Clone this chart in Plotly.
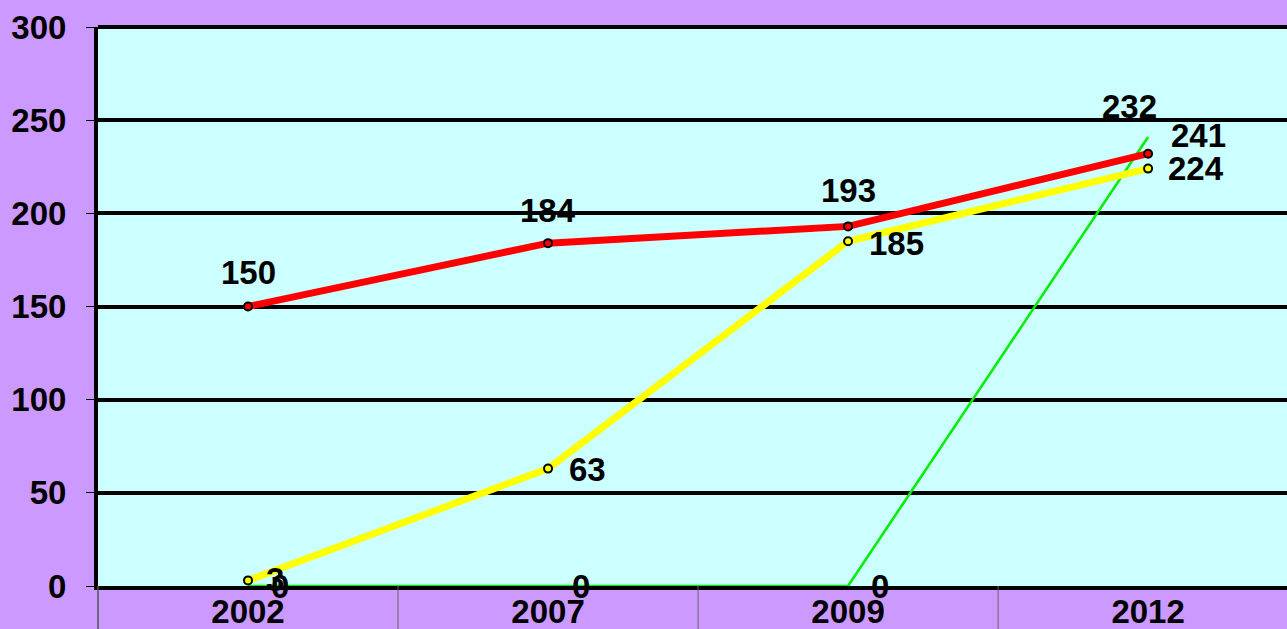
import plotly.graph_objects as go

years = ["2002", "2007", "2009", "2012"]
red_vals = [150, 184, 193, 232]
yellow_vals = [3, 63, 185, 224]
green_vals = [0, 0, 0, 241]
y_ticks = [0, 50, 100, 150, 200, 250, 300]

# label offsets (style): (xshift, yshift) in px
red_off = [(0, 34), (0, 33), (0, 36), (-19, 47)]
yellow_off = [(27, 1), (39, -1), (48, -2), (48, 0)]
green_off = [(32, 0), (33, 0), (32, 0), (50, 1)]

FONT = "Liberation Sans, Arial, sans-serif"
LBL = 33

fig = go.Figure()
fig.add_trace(go.Scatter(x=years, y=green_vals, mode="lines",
                         line=dict(color="#00EE00", width=2.5), cliponaxis=False))
fig.add_trace(go.Scatter(x=years, y=yellow_vals, mode="lines+markers",
                         line=dict(color="#FFFF00", width=7),
                         marker=dict(size=8, color="#FFFF00", line=dict(color="black", width=2)),
                         cliponaxis=False))
fig.add_trace(go.Scatter(x=years, y=red_vals, mode="lines+markers",
                         line=dict(color="#FF0000", width=7),
                         marker=dict(size=8, color="#FF0000", line=dict(color="black", width=2)),
                         cliponaxis=False))

anns = []
for vals, offs in ((green_vals, green_off), (yellow_vals, yellow_off), (red_vals, red_off)):
    for i, (v, o) in enumerate(zip(vals, offs)):
        anns.append(dict(x=i, y=v, xref="x", yref="y", text="<b>%d</b>" % v, showarrow=False,
                         xanchor="center", yanchor="middle", xshift=o[0], yshift=o[1],
                         font=dict(family=FONT, size=LBL, color="black")))

shapes = [dict(type="line", xref="paper", yref="paper", x0=0, x1=0, y0=-0.1, y1=0,
               line=dict(color="#555555", width=1.5)),
          dict(type="line", xref="paper", yref="paper", x0=0, x1=1, y0=1, y1=1,
               line=dict(color="black", width=4))]
for xb in (0.5, 1.5, 2.5):
    shapes.append(dict(type="line", xref="x", yref="paper", x0=xb, x1=xb, y0=-0.1, y1=0,
                       line=dict(color="#666666", width=1)))

fig.update_layout(
    margin=dict(l=98, r=0, t=27, b=43),
    paper_bgcolor="#CC99FF", plot_bgcolor="#CCFFFF",
    showlegend=False,
    annotations=anns, shapes=shapes,
    font=dict(family=FONT, color="black"),
    xaxis=dict(type="category", range=[-0.5, 3.463], showgrid=False, zeroline=False,
               automargin=False,
               showline=True, linecolor="black", linewidth=4, ticks="", ticklabelstandoff=-7,
               tickfont=dict(family=FONT, size=33, color="black", weight="bold")),
    yaxis=dict(range=[0, 300], tickvals=y_ticks, showgrid=True, gridcolor="black", gridwidth=4,
               zeroline=False, showline=True, linecolor="black", linewidth=4, automargin=False,
               ticks="outside", ticklen=8, tickwidth=1, tickcolor="black",
               ticklabelstandoff=13,
               tickfont=dict(family=FONT, size=33, color="black", weight="bold")),
)
fig.write_html("out.html", config={"displayModeBar": False},
               post_script="document.body.style.margin='0';document.body.style.overflow='hidden';"
                           "window.dispatchEvent(new Event('resize'));")
